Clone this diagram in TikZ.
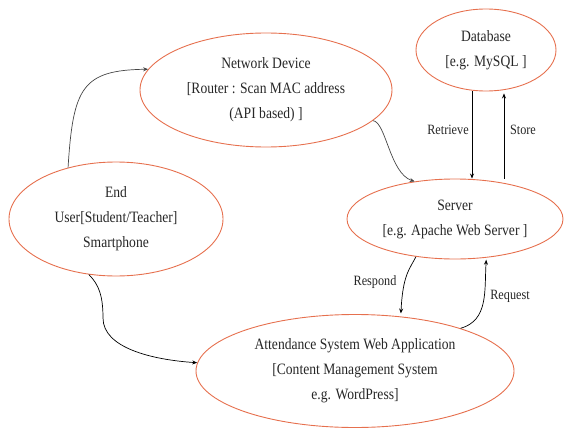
\documentclass[tikz,border=0pt]{standalone}
\usepackage{fontspec}
\setmainfont[FakeStretch=0.86]{Liberation Serif}
\usetikzlibrary{shapes.geometric,arrows.meta}
\definecolor{ellcol}{RGB}{230,112,78}
\definecolor{graylink}{RGB}{70,70,70}
\begin{document}
\begin{tikzpicture}[x=1pt,y=-1pt,
  ellnode/.style={ellipse, draw=ellcol, line width=0.9pt, inner sep=0pt, align=center,
    text=black!85, font=\fontsize{15.8}{25}\selectfont},
  lbl/.style={font=\fontsize{14.2}{16}\selectfont, inner sep=0pt, text=black!85},
  arr/.style={-{Stealth[length=5pt,width=4pt]}, line width=0.7pt},
]
\useasboundingbox (0,0) rectangle (565,428);

\node[ellnode, minimum width=252pt, minimum height=114pt] (net) at (266,90)
  {Network Device\\{[}Router : Scan MAC address\\(API based) ]};
\node[ellnode, minimum width=140pt, minimum height=82pt] (db) at (486,50)
  {Database\\{[}e.g. MySQL ]};
\node[ellnode, minimum width=214pt, minimum height=114pt] (user) at (116,219)
  {End\\User[Student/Teacher]\\Smartphone};
\node[ellnode, minimum width=216pt, minimum height=80pt] (srv) at (455,219)
  {Server\\{[}e.g. Apache Web Server ]};
\node[ellnode, minimum width=318pt, minimum height=113pt] (app) at (355,371)
  {Attendance System Web Application\\{[}Content Management System\\e.g. WordPress]};

% user -> network device
\draw[arr, draw=graylink] (user.133) .. controls +(5,-80) and +(-66,1) .. (net.170);
% network device -> server
\draw[arr, draw=graylink] (net.-16) .. controls +(13,1) and +(-25,-8) .. (srv.137);

% database <-> server
\coordinate (rtop) at ([xshift=-14pt]db.south);
\coordinate (rbot) at (rtop |- srv.north);
\coordinate (stop) at ([xshift=18pt]db.south);
\coordinate (sbot) at (stop |- srv.north);
\draw[arr] (rtop) -- (rbot);
\draw[arr, shorten >=2pt] (sbot) -- (stop);
\node[lbl] (lret) at (448,130) {Retrieve};
\node[lbl] (lsto) at (523,130) {Store};

% server <-> application
\draw[arr, shorten >=3pt] (srv.224.5) .. controls +(-6,12) and +(2,-42) .. (app.50);
\draw[arr, shorten >=2pt] (app.22.5) .. controls +(28,-8) and +(-2,33) .. (srv.309);
\node[lbl] (lresp) at (375,282) {Respond};
\node[lbl] (lreq) at (510,296) {Request};

% user -> application
\draw[arr] (user.244) .. controls +(10,10) and +(0,-22) .. (103,318)
  .. controls +(0,30) and +(-45,-3) .. (app.177);
\end{tikzpicture}
\end{document}
